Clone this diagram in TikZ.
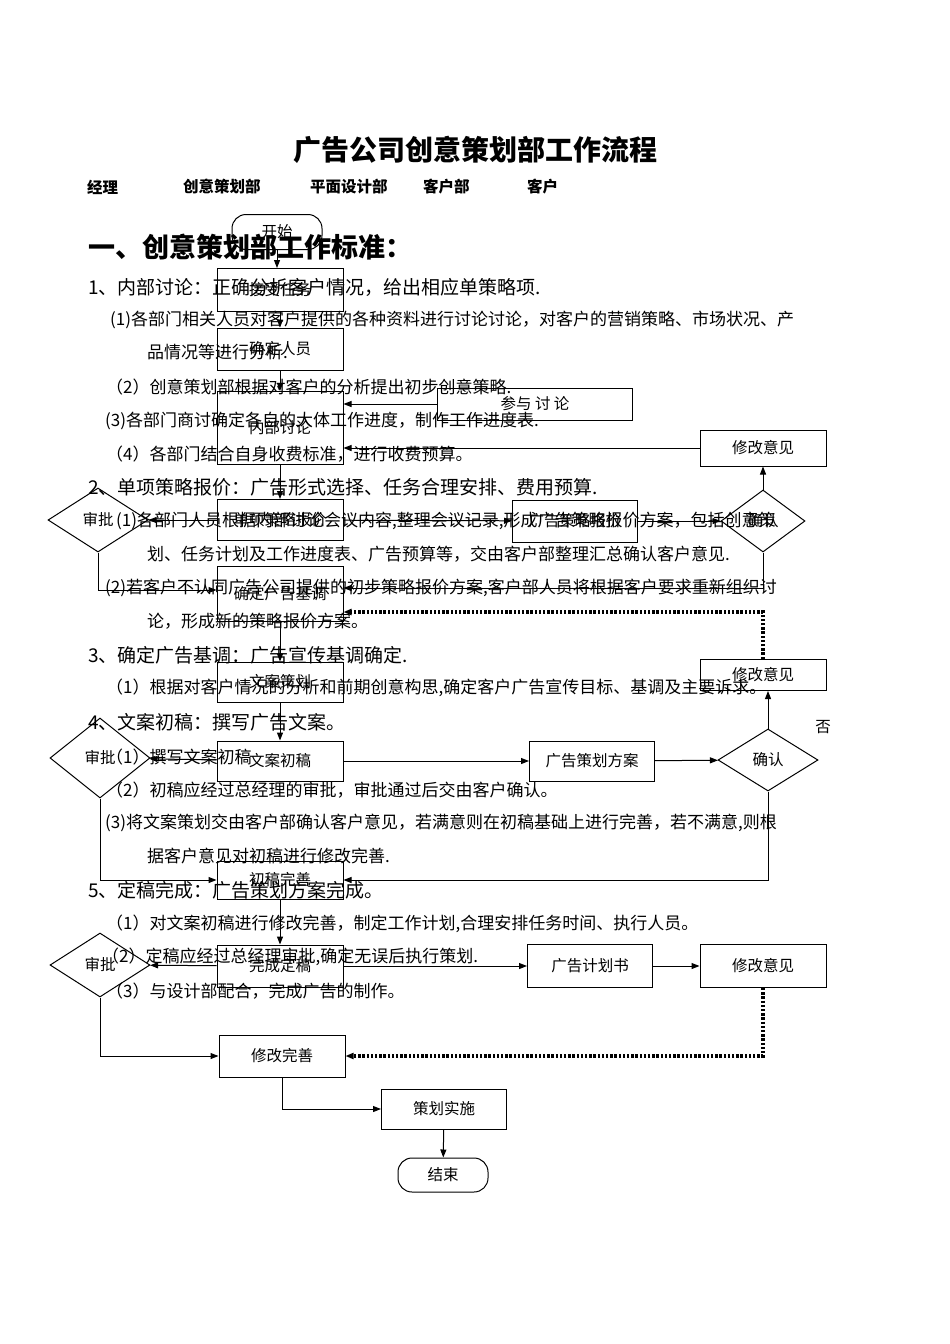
\documentclass[tikz,border=0pt]{standalone}
\usepackage{fontspec}
\newfontfamily\cjk{Noto Sans CJK SC}
\usetikzlibrary{shapes.geometric,arrows.meta}

\begin{document}
\begin{tikzpicture}[x=1pt,y=-1pt,
  box/.style={draw,line width=1pt,inner sep=0pt,minimum width=126pt,minimum height=40pt,font=\cjk\fontsize{15.5}{16}\selectfont},
  ends/.style={box,rounded corners=14pt,minimum width=90pt,minimum height=35pt},
  check/.style={draw,diamond,line width=1pt,inner sep=0pt,minimum width=100pt,minimum height=64pt,font=\cjk\fontsize{15.5}{16}\selectfont},
  link/.style={line width=1pt,-{Triangle[length=8pt,width=6pt]}},
  back/.style={link,line width=3.2pt,dash pattern=on 2.4pt off 1.8pt},
  item/.style={anchor=west,inner sep=0pt,font=\cjk\fontsize{17}{18}\selectfont},
  part/.style={anchor=west,inner sep=0pt,font=\cjk\fontsize{19}{20}\selectfont},
  head/.style={anchor=west,inner sep=0pt,font=\cjk\bfseries\fontsize{15.5}{16}\selectfont}]
  \useasboundingbox (0,0) rectangle (950,1344);

  \node[font=\cjk\bfseries\fontsize{28}{30}\selectfont] (title) at (475,150) {广告公司创意策划部工作流程};
  \node[head] (h1) at (87,187) {经理};
  \node[head] (h2) at (183,187) {创意策划部};
  \node[head] (h3) at (310,187) {平面设计部};
  \node[head] (h4) at (423,187) {客户部};
  \node[head] (h5) at (527,187) {客户};
  \node[anchor=west,inner sep=0pt,font=\cjk\bfseries\fontsize{27}{29}\selectfont] (std) at (88,247) {一、创意策划部工作标准：};

  \node[part] (p1) at (88,287) {1、内部讨论：正确分析客户情况，给出相应单策略项.};
  \node[item] (p1a) at (110,320) {(1)各部门相关人员对客户提供的各种资料进行讨论讨论，对客户的营销策略、市场状况、产};
  \node[item] (p1b) at (147,352) {品情况等进行分析.};
  \node[item] (p1c) at (106,387) {（2）创意策划部根据对客户的分析提出初步创意策略.};
  \node[item] (p1d) at (105,421) {(3)各部门商讨确定各自的大体工作进度，制作工作进度表.};
  \node[item] (p1e) at (106,454) {（4）各部门结合自身收费标准，进行收费预算。};
  \node[part] (p2) at (88,487) {2、单项策略报价：广告形式选择、任务合理安排、费用预算.};
  \node[item] (p2a) at (116,521) {(1)各部门人员根据内部讨论会议内容,整理会议记录,形成广告策略报价方案，包括创意策};
  \node[item] (p2b) at (147,554) {划、任务计划及工作进度表、广告预算等，交由客户部整理汇总确认客户意见.};
  \node[item] (p2c) at (105,588) {(2)若客户不认同广告公司提供的初步策略报价方案,客户部人员将根据客户要求重新组织讨};
  \node[item] (p2d) at (147,621) {论，形成新的策略报价方案。};
  \node[part] (p3) at (88,655) {3、确定广告基调：广告宣传基调确定.};
  \node[item] (p3a) at (106,688) {（1）根据对客户情况的分析和前期创意构思,确定客户广告宣传目标、基调及主要诉求。};
  \node[part] (p4) at (88,722) {4、文案初稿：撰写广告文案。};
  \node[item] (p4a) at (106,757) {（1）撰写文案初稿};
  \node[item] (p4b) at (106,790) {（2）初稿应经过总经理的审批，审批通过后交由客户确认。};
  \node[item] (p4c) at (105,823) {(3)将文案策划交由客户部确认客户意见，若满意则在初稿基础上进行完善，若不满意,则根};
  \node[item] (p4d) at (147,856) {据客户意见对初稿进行修改完善.};
  \node[part] (p5) at (88,890) {5、定稿完成：广告策划方案完成。};
  \node[item] (p5a) at (106,924) {（1）对文案初稿进行修改完善，制定工作计划,合理安排任务时间、执行人员。};
  \node[item] (p5b) at (102,957) {（2）定稿应经过总经理审批,确定无误后执行策划.};
  \node[item] (p5c) at (106,991) {（3）与设计部配合，完成广告的制作。};

  \node[ends] (start) at (277,232) {开始};
  \node[box,minimum height=43pt] (accept) at (280,290) {接受任务};
  \node[box,minimum height=42pt] (staff) at (280,349) {确定人员};
  \node[box,minimum height=73pt] (talk) at (280,428) {内部讨论};
  \node[box,minimum width=195pt,minimum height=32pt] (join) at (535,404) {参与 讨 论};
  \node[box,minimum height=36pt] (edit1) at (763,448) {修改意见};
  \node[box,minimum height=41pt] (quote) at (280,520) {单项策略报价};
  \node[box,minimum width=125pt,minimum height=42pt] (offer) at (575,521) {广告策略报价};
  \node[check,minimum width=84pt,minimum height=62pt] (ok1) at (763,521) {确认};
  \node[check] (boss1) at (98,520) {审批};
  \node[box,minimum height=55pt] (tone) at (280,594) {确定广告基调};
  \node[box,minimum height=31pt] (edit2) at (763,675) {修改意见};
  \node[box] (copy) at (280,682) {文案策划};
  \node[box] (draft) at (280,761) {文案初稿};
  \node[check,minimum height=80pt] (boss2) at (100,758) {审批};
  \node[box,minimum width=125pt] (plan) at (592,761) {广告策划方案};
  \node[check,minimum height=62pt] (ok2) at (768,760) {确认};
  \node[font=\cjk\fontsize{15.5}{16}\selectfont] (no) at (823,727) {否};
  \node[box,minimum height=38pt] (polish) at (280,880) {初稿完善};
  \node[box,minimum height=42pt] (final) at (280,966) {完成定稿};
  \node[check] (boss3) at (100,965) {审批};
  \node[box,minimum width=125pt,minimum height=43pt] (book) at (590,966) {广告计划书};
  \node[box,minimum height=43pt] (edit3) at (763,966) {修改意见};
  \node[box,minimum height=42pt] (fix) at (282,1056) {修改完善};
  \node[box,minimum width=125pt] (run) at (444,1109) {策划实施};
  \node[ends,minimum height=34pt] (stop) at (443,1175) {结束};

  \draw[link] (start) -- (start.south |- accept.north);
  \draw[link] (accept) -- (staff);
  \draw[link] (staff) -- (talk);
  \draw[link] (join.west) -- (join.west -| talk.east);
  \draw[link] (edit1.west) -- (edit1.west -| talk.east);
  \draw[link] (talk) -- (quote);
  \draw[link] (quote) -- (boss1);
  \draw[link] (quote) -- (offer);
  \draw[link] (offer) -- (ok1);
  \draw[link] (ok1) -- (edit1);
  \draw[link] (ok1.south) |- ([yshift=6pt]tone.east);
  \draw[link] (boss1.south) |- ([yshift=4pt]tone.west);
  \draw[back] (edit2.north) |- ([yshift=-18pt]tone.east);
  \draw[link] (tone) -- (copy);
  \draw[link] (copy) -- (draft);
  \draw[link] (draft) -- (boss2);
  \draw[link] (draft) -- (plan);
  \draw[link] (plan) -- (ok2);
  \draw[link] (ok2.north) -- (ok2.north |- edit2.south);
  \draw[link] (ok2.south) |- (polish.east);
  \draw[link] (boss2.south) |- (polish.west);
  \draw[link] (polish) -- (final);
  \draw[link] (final) -- (boss3);
  \draw[link] (final) -- (book);
  \draw[link] (book) -- (edit3);
  \draw[back] (edit3.south) |- (fix.east);
  \draw[link] (boss3.south) |- (fix.west);
  \draw[link] (fix.south) |- (run.west);
  \draw[link] (run) -- (stop);
\end{tikzpicture}
\end{document}
